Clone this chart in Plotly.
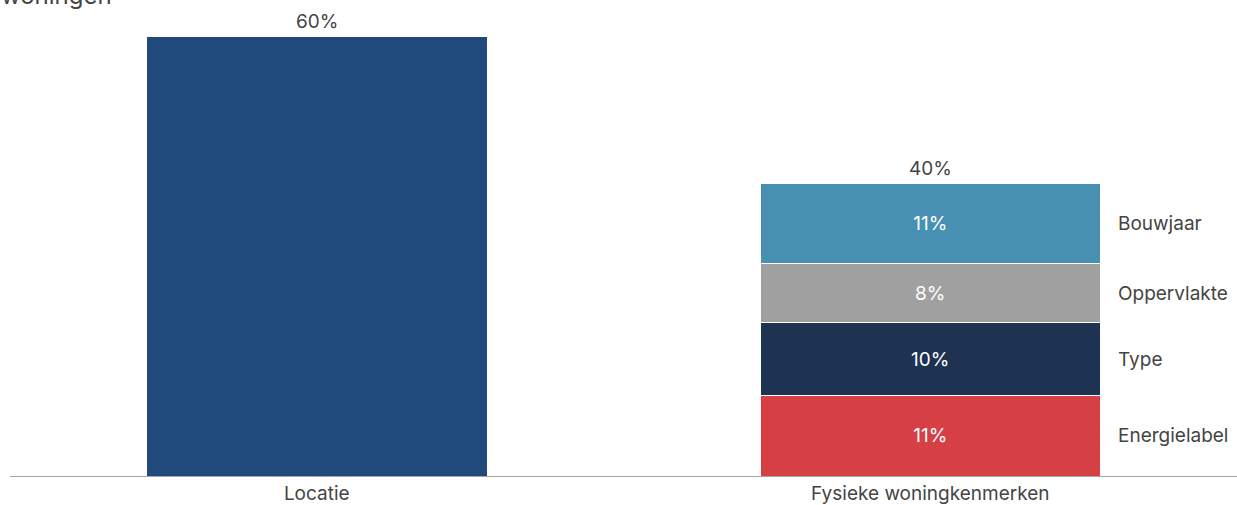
import plotly.graph_objects as go

categories = ["Locatie", "Fysieke woningkenmerken"]
locatie_value = 60
components = ["Energielabel", "Type", "Oppervlakte", "Bouwjaar"]
component_values = [11, 10, 8, 11]
component_colors = ["#D64045", "#1E3252", "#A0A0A0", "#4890B2"]
locatie_color = "#204A7C"

FONT = "Inter, Roboto, sans-serif"
TXT = "#444444"
FS = 19
BW = 0.554

fig = go.Figure()
fig.add_trace(go.Bar(
    x=[categories[0]], y=[locatie_value], width=BW,
    marker=dict(color=locatie_color, line=dict(width=0)),
    showlegend=False, hoverinfo="skip",
))
for name, val, col in zip(components, component_values, component_colors):
    fig.add_trace(go.Bar(
        x=[categories[1]], y=[val], width=BW, name=name,
        marker=dict(color=col, line=dict(color="white", width=1)),
        text=[f"{val}%"], textposition="inside", insidetextanchor="middle",
        textfont=dict(color="white", size=FS, family=FONT),
        showlegend=False, hoverinfo="skip",
    ))

annotations = []
# totals above bars
totals = [locatie_value, sum(component_values)]
for cat, tot in zip(categories, totals):
    annotations.append(dict(
        x=cat, y=tot, xref="x", yref="y", text=f"{tot}%", showarrow=False,
        yanchor="bottom", yshift=2, font=dict(size=FS, color=TXT, family=FONT),
    ))
# side labels
cum = 0
for name, val in zip(components, component_values):
    annotations.append(dict(
        x=categories[1], y=cum + val / 2, xref="x", yref="y", text=name,
        showarrow=False, xanchor="left", xshift=186,
        font=dict(size=FS, color=TXT, family=FONT),
    ))
    cum += val
# clipped title remnant (the reference shows only the lower part of this line)
annotations.append(dict(
    x=0, y=1, xref="paper", yref="paper", text="woningen", showarrow=False,
    xanchor="left", yanchor="bottom", xshift=-11, yshift=-12,
    font=dict(size=24, color=TXT, family=FONT),
))

fig.update_layout(
    barmode="stack",
    width=1237, height=505,
    margin=dict(l=10, r=0, t=0, b=29),
    paper_bgcolor="white", plot_bgcolor="white",
    annotations=annotations,
    xaxis=dict(
        type="category", range=[-0.5, 1.5], showline=True, linecolor="#A6A6A6",
        linewidth=1, ticks="", showgrid=False,
        tickfont=dict(size=FS, color=TXT, family=FONT),
    ),
    yaxis=dict(range=[0, 65.1], visible=False, showgrid=False, zeroline=False),
    font=dict(family=FONT),
)

fig.write_html("out.html")
